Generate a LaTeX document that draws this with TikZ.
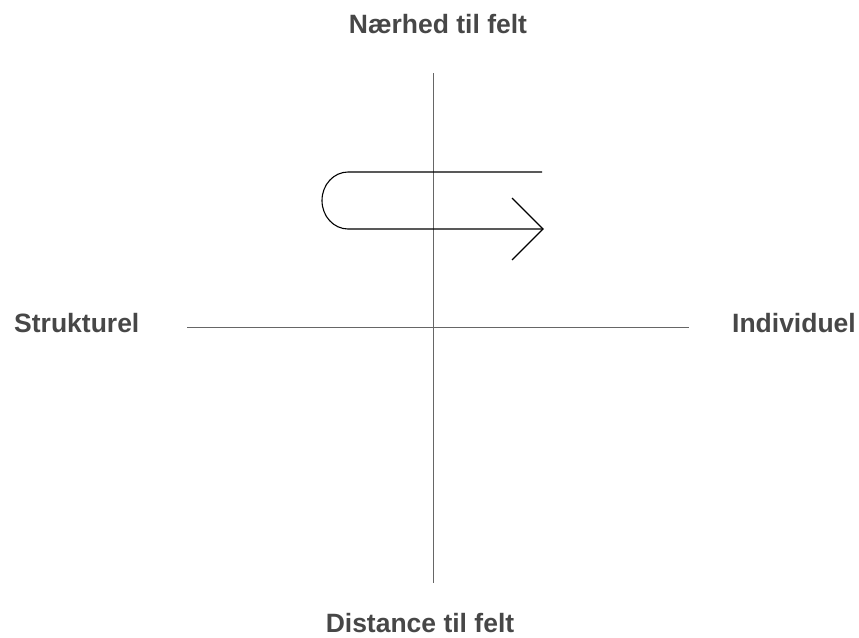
\documentclass[tikz,border=0pt]{standalone}
\usepackage{fontspec}
\setmainfont{Liberation Sans}
\usepackage{tikz}
\usepackage{xcolor}

\begin{document}
\begin{tikzpicture}[x=1pt, y=-1pt, every node/.style={font=\fontsize{26.5}{30}\selectfont\bfseries, text=black!72, inner sep=0pt}]
\useasboundingbox (0,0) rectangle (859,637);
% labels
\node[anchor=base] (naer) at (438,33) {Nærhed til felt};
\node[anchor=base] (dist) at (420,632) {Distance til felt};
\node[anchor=base west] (strukt) at (14,332) {Strukturel};
\node[anchor=base east] (indiv) at (856,332) {Individuel};
% axes
\coordinate (top) at (433,73);
\coordinate (bot) at (433,583);
\coordinate (left) at (187,327);
\coordinate (right) at (689,327);
\draw[line width=1pt, black!60] (top)--(bot);
\draw[line width=1pt, black!60] (left)--(right);
% u-turn arrow
\draw[line width=1.1pt] (542,172) -- (348,172) arc[start angle=270, end angle=90, x radius=26, y radius=28.5] -- (543,229);
\draw[line width=1.1pt] (512,198) -- (543,229) -- (512,260);
\end{tikzpicture}
\end{document}
